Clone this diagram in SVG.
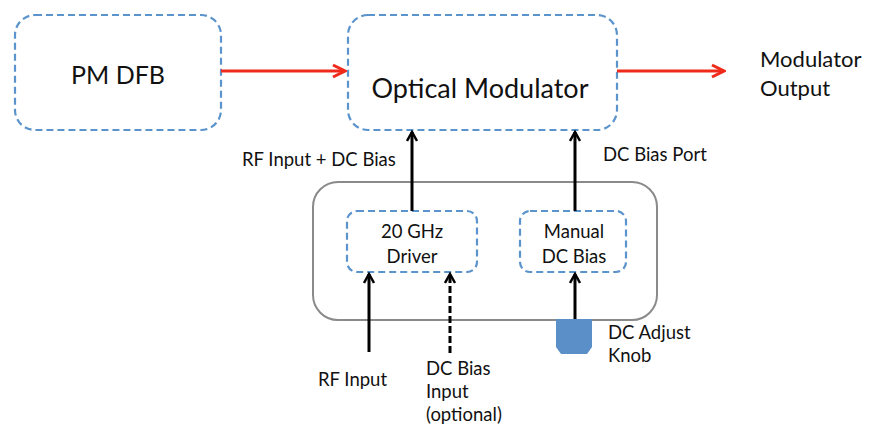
<svg xmlns="http://www.w3.org/2000/svg" width="885" height="427" viewBox="0 0 885 427">
<defs>
<style>
.node{fill:#fff;stroke:#5b93cc;stroke-width:2.2;stroke-dasharray:7 4}
.t{font-family:Lato,"Open Sans",sans-serif;fill:#111}
.s{font-size:18.5px}
.blk{stroke:#000;stroke-width:3;fill:none}
.red{stroke:#f02a1a;stroke-width:3;fill:none}
</style>
<marker id="ab" viewBox="0 0 12 12" refX="10" refY="6" markerWidth="12" markerHeight="12" markerUnits="userSpaceOnUse" orient="auto"><path d="M1,1 L10,6 L1,11" fill="none" stroke="#000" stroke-width="2.5"/></marker>
<marker id="ar" viewBox="0 0 16 16" refX="14" refY="8" markerWidth="16" markerHeight="16" markerUnits="userSpaceOnUse" orient="auto"><path d="M2,2 L14,8 L2,14" fill="none" stroke="#f02a1a" stroke-width="3"/></marker>
</defs>
<rect width="885" height="427" fill="#fff"/>
<g id="container"><rect x="313" y="182" width="344" height="138" rx="25" fill="#fff" stroke="#8a8a8a" stroke-width="2"/></g>
<g id="pmdfb"><rect class="node" x="15" y="15" width="206" height="115" rx="20"/><text class="t" x="118" y="84" font-size="25" text-anchor="middle">PM DFB</text></g>
<g id="modulator"><rect class="node" x="348" y="15" width="269" height="115" rx="20"/><text class="t" x="480" y="98" font-size="27" text-anchor="middle" fill="#2a2a2a">Optical Modulator</text></g>
<g id="driver"><rect class="node" x="347" y="211" width="130" height="61" rx="10"/><text class="t s" x="412" y="238" text-anchor="middle">20 GHz</text><text class="t s" x="412" y="263" text-anchor="middle">Driver</text></g>
<g id="manual"><rect class="node" x="520" y="211" width="106" height="61" rx="10"/><text class="t s" x="574" y="238" text-anchor="middle">Manual</text><text class="t s" x="574" y="263" text-anchor="middle">DC Bias</text></g>
<g id="knob"><path d="M556,319 H592 V347 L587,354 H561 L556,347 Z" fill="#5b8fc7"/></g>
<g id="connectors">
<line class="red" x1="221" y1="71" x2="345" y2="71" marker-end="url(#ar)"/>
<line class="red" x1="617" y1="71" x2="724" y2="71" marker-end="url(#ar)"/>
<line class="blk" x1="412" y1="211" x2="412" y2="132" marker-end="url(#ab)"/>
<line class="blk" x1="575" y1="211" x2="575" y2="132" marker-end="url(#ab)"/>
<line class="blk" x1="369" y1="352" x2="369" y2="274" marker-end="url(#ab)"/>
<line class="blk" x1="450" y1="353" x2="450" y2="274" stroke-width="3.5" stroke-dasharray="7 3" marker-end="url(#ab)"/>
<line class="blk" x1="575" y1="319" x2="575" y2="274" marker-end="url(#ab)"/>
</g>
<g id="labels">
<text class="t" x="760" y="67" font-size="22">Modulator</text>
<text class="t" x="760" y="96" font-size="22">Output</text>
<text class="t s" x="242" y="166">RF Input + DC Bias</text>
<text class="t s" x="603" y="161">DC Bias Port</text>
<text class="t s" x="608" y="339">DC Adjust</text>
<text class="t s" x="608" y="362">Knob</text>
<text class="t s" x="318" y="386">RF Input</text>
<text class="t s" x="426" y="375">DC Bias</text>
<text class="t s" x="426" y="398">Input</text>
<text class="t s" x="426" y="421">(optional)</text>
</g>
</svg>
